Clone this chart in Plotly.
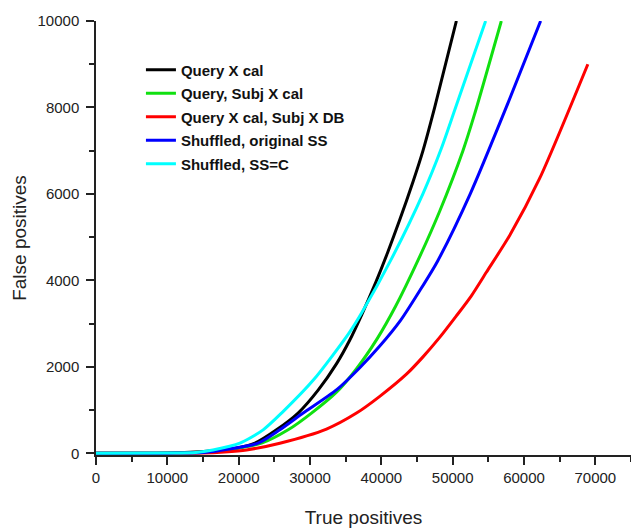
import plotly.graph_objects as go

# ---- data ----
names = ["Query X cal", "Query, Subj X cal", "Query X cal, Subj X DB",
         "Shuffled, original SS", "Shuffled, SS=C"]
colors = ["#000000", "#10e010", "#ff0000", "#0000ff", "#00ffff"]

black_x = [0, 10000, 15970, 19890, 22270, 25310, 28330, 31140, 33750, 35580, 37260, 39220, 40900, 42580, 44440, 45840, 47480, 50520]
black_y = [0, 5, 53, 123, 233, 542, 930, 1460, 2080, 2620, 3210, 3954, 4650, 5400, 6280, 7000, 8000, 10000]

green_x = [0, 10000, 15000, 18000, 23210, 26930, 30210, 33750, 36500, 39360, 42000, 45100, 48180, 51440, 53080, 56820]
green_y = [0, 3, 15, 70, 233, 542, 930, 1420, 1950, 2634, 3400, 4450, 5600, 7000, 7850, 10000]

red_x = [0, 15000, 18000, 21100, 25770, 32310, 36520, 39780, 43520, 45840, 48180, 50520, 52620, 54720, 57990, 62190, 68950]
red_y = [0, 5, 30, 77, 233, 560, 930, 1317, 1830, 2230, 2680, 3178, 3643, 4187, 5038, 6357, 9000]

blue_x = [0, 10000, 15000, 17500, 22730, 25770, 29040, 33750, 36980, 39780, 42720, 45380, 47900, 52480, 57750, 62330]
blue_y = [0, 3, 15, 70, 233, 542, 930, 1472, 1980, 2480, 3080, 3760, 4450, 6008, 8101, 10000]

cyan_x = [0, 10000, 14000, 16390, 20170, 23430, 26010, 30530, 35440, 37210, 41420, 45840, 48420, 50520, 54620]
cyan_y = [0, 5, 20, 77, 233, 542, 930, 1705, 2775, 3240, 4497, 6008, 7055, 8050, 10000]

xs = [black_x, green_x, red_x, blue_x, cyan_x]
ys = [black_y, green_y, red_y, blue_y, cyan_y]

x_ticks = [0, 10000, 20000, 30000, 40000, 50000, 60000, 70000]
y_ticks = [0, 2000, 4000, 6000, 8000, 10000]

FONT = "Arial, Liberation Sans, sans-serif"

fig = go.Figure()
for i in range(5):
    fig.add_trace(go.Scatter(
        x=xs[i], y=ys[i], mode="lines", name=names[i],
        line=dict(color=colors[i], width=3, shape="spline", smoothing=0.7),
        legendgroup=f"g{i}",
    ))

axis_common = dict(
    showline=True, linecolor="#222222", linewidth=1.5,
    ticks="outside", ticklen=8, tickwidth=1.5, tickcolor="#222222",
    showgrid=False, zeroline=False, layer="below traces",
    tickfont=dict(family=FONT, size=15, color="#222222"),
    minor=dict(ticks="outside", ticklen=5, tickwidth=1.5, tickcolor="#222222", showgrid=False),
)

fig.update_layout(
    width=631, height=529,
    margin=dict(l=96, r=0, t=21, b=74),
    paper_bgcolor="white", plot_bgcolor="white",
    font=dict(family=FONT, color="#222222"),
    showlegend=True,
    legend=dict(
        x=0.084, y=0.925, xanchor="left", yanchor="top",
        bgcolor="rgba(0,0,0,0)", borderwidth=0,
        font=dict(family=FONT, size=15, color="#111111", weight="bold"),
        tracegroupgap=1, itemwidth=30,
    ),
    xaxis=dict(
        range=[0, 75000], tickvals=x_ticks, ticktext=[str(v) for v in x_ticks],
        title=dict(text="True positives", font=dict(family=FONT, size=19, color="#222222"), standoff=26),
        ticklabelstandoff=0,
        minor_dtick=5000,
        **axis_common,
    ),
    yaxis=dict(
        range=[-40, 10000], tickvals=y_ticks, ticktext=[str(v) for v in y_ticks],
        title=dict(text="False positives", font=dict(family=FONT, size=19, color="#222222"), standoff=6),
        ticklabelstandoff=4,
        minor_dtick=1000,
        **axis_common,
    ),
)
fig.update_xaxes(automargin=False)
fig.update_yaxes(automargin=False)

fig.write_html("out.html", config={"displayModeBar": False},
               post_script="document.body.style.margin='0';")
